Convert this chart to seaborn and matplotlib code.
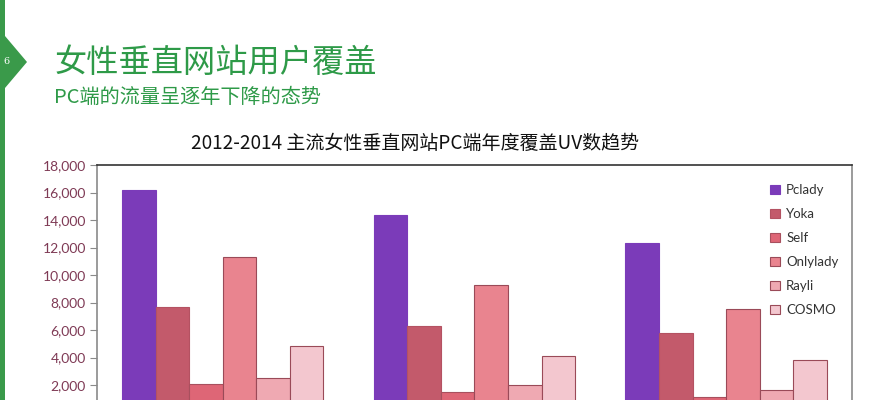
import pandas as pd
import seaborn as sns
import matplotlib
matplotlib.use("Agg")
import matplotlib.pyplot as plt
from matplotlib.patches import Polygon, Patch

# data
years = ["2012", "2013", "2014"]
sites = ["Pclady", "Yoka", "Self", "Onlylady", "Rayli", "COSMO"]
pclady = [16200, 14350, 12350]
yoka = [7700, 6300, 5800]
self_ = [2050, 1500, 1150]
onlylady = [11300, 9300, 7550]
rayli = [2500, 2000, 1650]
cosmo = [4850, 4100, 3800]
# 0 sits just below the bottom edge of the screenshot
yticks = list(range(2000, 18001, 2000))

colors = ["#7B3BB9", "#C35A6B", "#DE6676", "#E9848F", "#EFA9B2", "#F3C7CF"]
edges = ["#7B3BB9", "#B45262", "#A8505E", "#9A4A58", "#9A4A58", "#9A4A58"]

rows = []
for site, vals in zip(sites, [pclady, yoka, self_, onlylady, rayli, cosmo]):
    for y, v in zip(years, vals):
        rows.append({"year": y, "site": site, "uv": v})
df = pd.DataFrame(rows)

sns.set_style("white")
plt.rcParams["font.family"] = ["Noto Sans CJK SC", "DejaVu Sans"]

fig = plt.figure(figsize=(8.89, 4.0), dpi=100)
# axes runs off the bottom of the slide, like the screenshot
ax = fig.add_axes([97 / 889, -0.03125, 755 / 889, 0.61875])

sns.barplot(data=df, x="year", y="uv", hue="site", hue_order=sites,
            palette=colors, width=0.8, gap=0, saturation=1, ax=ax,
            legend=False, errorbar=None)

# edges per series
for cont, ec in zip(ax.containers, edges):
    for bar in cont:
        bar.set_edgecolor(ec)
        bar.set_linewidth(0.8)

ax.set_xlim(-0.5, 2.5)
ax.set_ylim(0, 18000)
ax.set_yticks(yticks)
ax.set_yticklabels([f"{t:,}" for t in yticks], color="#7F3A55",
                   fontsize=10, family=["Lato", "DejaVu Sans"])
ax.set_xlabel("")
ax.set_ylabel("")
ax.tick_params(axis="x", bottom=False, labelbottom=False)
ax.tick_params(axis="y", direction="out", length=5, width=0.8,
               color="#8a8a8a", left=True, pad=3)
for s in ["left", "right"]:
    ax.spines[s].set_color("#8a8a8a")
    ax.spines[s].set_linewidth(1.2)
ax.spines["top"].set_color("#333333")
ax.spines["top"].set_linewidth(1.2)

handles = [Patch(facecolor=c, edgecolor=e, linewidth=0.8)
           for c, e in zip(colors, edges)]
leg = ax.legend(handles, sites, loc="upper left",
                bbox_to_anchor=(765 / 889, 0.552), bbox_transform=fig.transFigure,
                frameon=False, fontsize=9.5, handlelength=0.7, handleheight=0.7,
                handletextpad=0.5, labelspacing=0.9, borderaxespad=0)
for t in leg.get_texts():
    t.set_color("#333333")
    t.set_family(["Lato", "DejaVu Sans"])

fig.text(415 / 889, 1 - 143 / 400, "2012-2014 主流女性垂直网站PC端年度覆盖UV数趋势",
         ha="center", va="center", fontsize=13.7, color="#111111")

# slide header: green strip with page tab
green = "#3A9A4A"
pts = [[0, 0], [5, 0], [5, 36], [27, 62], [5, 88], [5, 400], [0, 400]]
tab = Polygon([[x / 889, 1 - y / 400] for x, y in pts], closed=True,
              transform=fig.transFigure, facecolor=green, edgecolor="none")
fig.patches.append(tab)
fig.text(6 / 889, 1 - 62 / 400, "6", color="white", fontsize=7,
         ha="center", va="center", family=["DejaVu Serif"])
fig.text(55 / 889, 1 - 63 / 400, "女性垂直网站用户覆盖", color="#2E9A48",
         fontsize=23.2, ha="left", va="center")
fig.text(54 / 889, 1 - 97 / 400, "PC端的流量呈逐年下降的态势", color="#2E9A48",
         fontsize=14.5, ha="left", va="center")

fig.savefig("out.png", dpi=100)
